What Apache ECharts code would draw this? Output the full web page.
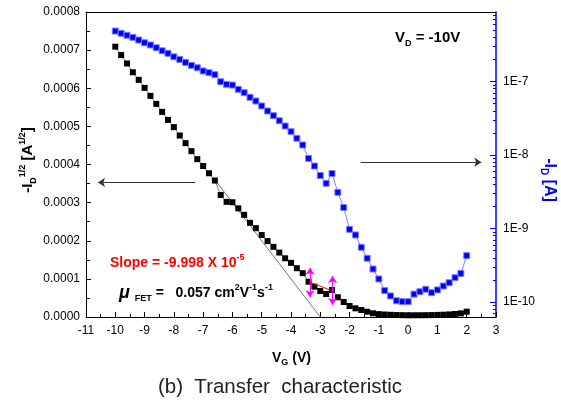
<!DOCTYPE html>
<html>
<head>
<meta charset="utf-8">
<title>Transfer characteristic</title>
<script src="https://cdn.jsdelivr.net/npm/echarts@6/dist/echarts.min.js"></script>
<style>
html, body { margin: 0; padding: 0; background: #fff; }
#main { width: 561px; height: 401px; }
</style>
</head>
<body>
<div id="main"></div>
<script>
// gate voltage (V)
var vg = [-10, -9.8, -9.6, -9.4, -9.2, -9, -8.8, -8.6, -8.4, -8.2,
    -8, -7.8, -7.6, -7.4, -7.2, -7, -6.8, -6.6, -6.4, -6.2,
    -6, -5.8, -5.6, -5.4, -5.2, -5, -4.8, -4.6, -4.4, -4.2,
    -4, -3.8, -3.6, -3.4, -3.2, -3, -2.8, -2.6, -2.4, -2.2,
    -2, -1.8, -1.6, -1.4, -1.2, -1, -0.8, -0.6, -0.4, -0.2,
    0, 0.2, 0.4, 0.6, 0.8, 1, 1.2, 1.4, 1.6, 1.8, 2];
// -Id^(1/2) in A^(1/2), left axis
var sqrtId = [0.000709, 0.000687, 0.000665, 0.000642, 0.000622, 0.000601, 0.000580, 0.000559, 0.000538, 0.000517,
    0.000498, 0.000476, 0.000456, 0.000435, 0.000414, 0.000396, 0.000377, 0.000358, 0.000320, 0.000302,
    0.000301, 0.000285, 0.000268, 0.000247, 0.000233, 0.000215, 0.000199, 0.000184, 0.000169, 0.000154,
    0.000142, 0.000128, 0.000115, 0.0000926, 0.0000795, 0.0000682, 0.0000603, 0.0000708, 0.0000517, 0.0000393,
    0.0000289, 0.0000228, 0.0000184, 0.0000139, 0.0000097, 0.0000075, 0.0000065, 0.0000058, 0.0000052, 0.0000048,
    0.0000045, 0.0000045, 0.0000046, 0.0000048, 0.000005, 0.0000055, 0.000006, 0.0000068, 0.0000078, 0.0000095, 0.000014];
// -Id in A, right axis (log)
var idAbs = [4.86e-7, 4.53e-7, 4.26e-7, 3.99e-7, 3.67e-7, 3.37e-7, 3.14e-7, 2.88e-7, 2.62e-7, 2.42e-7,
    2.17e-7, 2.00e-7, 1.82e-7, 1.66e-7, 1.54e-7, 1.39e-7, 1.32e-7, 1.24e-7, 9.93e-8, 9.16e-8,
    8.95e-8, 7.83e-8, 7.05e-8, 6.10e-8, 5.43e-8, 4.65e-8, 3.97e-8, 3.43e-8, 2.93e-8, 2.48e-8,
    2.08e-8, 1.69e-8, 1.37e-8, 9.0e-9, 7.08e-9, 5.26e-9, 4.12e-9, 5.60e-9, 3.11e-9, 1.93e-9,
    9.75e-10, 8.17e-10, 5.55e-10, 3.94e-10, 2.81e-10, 2.06e-10, 1.43e-10, 1.21e-10, 1.04e-10, 1.01e-10,
    1.01e-10, 1.28e-10, 1.38e-10, 1.49e-10, 1.34e-10, 1.46e-10, 1.65e-10, 1.83e-10, 2.14e-10, 2.45e-10, 4.27e-10];
// linear fit of the sqrt curve
var fitV = [-6.6, -3.0];
var fitY = [0.00036, 0];
// right axis decades shown as labels
var decades = [-10, -9, -8, -7];
var logMin = -10.204, logMax = -6.054;

var F = '"Liberation Sans", Arial, sans-serif';

var minorLog = [];
for (var d = -11; d <= -7; d++) {
    for (var k = 2; k <= 9; k++) minorLog.push(d + Math.log10(k));
}

var blackPts = vg.map(function (v, i) { return [v, sqrtId[i]]; });
var bluePts = vg.map(function (v, i) { return [v, Math.log10(idAbs[i])]; });
var fitPts = fitV.map(function (v, i) { return [v, fitY[i]]; });

var myChart = echarts.init(document.getElementById('main'));

var sub = {fontSize: 9, fontWeight: 'bold', fontFamily: F, lineHeight: 9, verticalAlign: 'bottom', fill: '#000'};
var sup = {fontSize: 9, fontWeight: 'bold', fontFamily: F, lineHeight: 9, verticalAlign: 'top', fill: '#000'};
var bold = {fontSize: 15, fontWeight: 'bold', fontFamily: F, lineHeight: 20, fill: '#000'};

var option = {
    animation: false,
    grid: {left: 86, right: 65, top: 12, bottom: 84, outerBoundsMode: 'none'},
    xAxis: [
        {
            type: 'value', min: -11, max: 3, interval: 1, position: 'bottom',
            axisLine: {onZero: false, lineStyle: {color: '#000', width: 1}},
            axisTick: {inside: true, length: 5, lineStyle: {color: '#000'}},
            minorTick: {show: true, splitNumber: 2, length: 3, lineStyle: {color: '#000'}},
            axisLabel: {color: '#000', fontSize: 12, fontFamily: F, margin: 8},
            splitLine: {show: false}
        },
        {
            type: 'value', min: -11, max: 3, position: 'top',
            axisLine: {onZero: false, lineStyle: {color: '#000', width: 1}},
            axisTick: {show: false}, axisLabel: {show: false}, splitLine: {show: false}
        }
    ],
    yAxis: [
        {
            type: 'value', min: 0, max: 0.0008, interval: 0.0001, position: 'left',
            axisLine: {show: true, onZero: false, lineStyle: {color: '#000', width: 1}},
            axisTick: {inside: true, length: 5, lineStyle: {color: '#000'}},
            minorTick: {show: true, splitNumber: 2, length: 4, lineStyle: {color: '#000'}},
            axisLabel: {color: '#000', fontSize: 12, fontFamily: F, margin: 6,
                formatter: function (v) { return v.toFixed(4); }},
            splitLine: {show: false}
        },
        {
            type: 'value', min: logMin, max: logMax, position: 'right',
            axisLine: {show: true, onZero: false, lineStyle: {color: '#0000ff', width: 1.5}},
            axisTick: {inside: true, length: 6, customValues: decades, lineStyle: {color: '#0000ff'}},
            axisLabel: {color: '#000', fontSize: 12, fontFamily: F, margin: 7, customValues: decades,
                formatter: function (v) { return '1E' + Math.round(v); }},
            splitLine: {show: false}
        },
        {
            type: 'value', min: logMin, max: logMax, position: 'right',
            axisLine: {show: false, onZero: false},
            axisTick: {inside: true, length: 3, customValues: minorLog, lineStyle: {color: '#0000ff'}},
            axisLabel: {show: false},
            splitLine: {show: false}
        }
    ],
    series: [
        {
            name: 'sqrt', type: 'line', xAxisIndex: 0, yAxisIndex: 0, data: blackPts,
            symbol: 'rect', symbolSize: 6,
            itemStyle: {color: '#000'},
            lineStyle: {color: '#666', width: 0.8}
        },
        {
            name: 'log', type: 'line', xAxisIndex: 0, yAxisIndex: 1, data: bluePts,
            symbol: 'rect', symbolSize: 6,
            itemStyle: {color: '#0000ff', borderColor: '#8080ff', borderWidth: 1},
            lineStyle: {color: '#8080ff', width: 1}
        },
        {
            name: 'fit', type: 'line', xAxisIndex: 0, yAxisIndex: 0, data: fitPts,
            symbol: 'none', lineStyle: {color: '#777', width: 1}, silent: true,
            markLine: {
                silent: true, animation: false, label: {show: false},
                symbol: ['none', 'arrow'], symbolSize: 7,
                data: [
                    [{coord: [-7.27, 0.000353], lineStyle: {color: '#333', width: 1, type: 'solid'}}, {coord: [-10.59, 0.000353]}],
                    [{coord: [-1.62, 0.000406], lineStyle: {color: '#333', width: 1, type: 'solid'}}, {coord: [2.5, 0.000406]}],
                    [{coord: [-3.35, 0.000052], symbol: 'arrow', lineStyle: {color: '#ff00ff', width: 1, type: 'solid'}}, {coord: [-3.35, 0.000129]}],
                    [{coord: [-2.58, 0.0000315], symbol: 'arrow', lineStyle: {color: '#ff00ff', width: 1, type: 'solid'}}, {coord: [-2.58, 0.0001075]}],
                    [{coord: [-3.4, 0.0000926], symbol: 'none', lineStyle: {color: '#ff0000', width: 1, type: 'solid'}}, {coord: [-2.6, 0.000069], symbol: 'none'}]
                ]
            }
        }
    ],
    graphic: [
        {
            type: 'text', x: 28, y: 160, rotation: Math.PI / 2,
            style: {
                text: '{b|-I}{sub|D}{sup|1/2}{b| [A}{sup|1/2}{b|]}',
                align: 'center', verticalAlign: 'middle',
                rich: {b: bold, sub: sub, sup: sup}
            }
        },
        {
            type: 'text', x: 549, y: 180, rotation: -Math.PI / 2,
            style: {
                text: '{b|-I}{sub|D}{b| [A]}',
                align: 'center', verticalAlign: 'middle',
                rich: {
                    b: {fontSize: 16, fontWeight: 'bold', fontFamily: F, lineHeight: 20, fill: '#0000ff'},
                    sub: {fontSize: 10, fontWeight: 'bold', fontFamily: F, lineHeight: 10, verticalAlign: 'bottom', fill: '#0000ff'}
                }
            }
        },
        {
            type: 'text', x: 395, y: 38,
            style: {
                text: '{b|V}{sub|D}{b| = -10V}',
                align: 'left', verticalAlign: 'middle',
                rich: {b: bold, sub: sub}
            }
        },
        {
            type: 'text', x: 110, y: 263,
            style: {
                text: '{r|Slope = -9.998 X 10}{rs|-5}',
                align: 'left', verticalAlign: 'middle',
                rich: {
                    r: {fontSize: 14, fontWeight: 'bold', fontFamily: F, lineHeight: 20, fill: '#ff0000'},
                    rs: {fontSize: 9, fontWeight: 'bold', fontFamily: F, lineHeight: 9, verticalAlign: 'top', fill: '#ff0000'}
                }
            }
        },
        {
            type: 'text', x: 119, y: 293,
            style: {
                text: '{mu|\u03bc}{sub|  FET}{b| =   0.057 cm}{sup|2}{b|V}{sup|-1}{b|s}{sup|-1}',
                align: 'left', verticalAlign: 'middle',
                rich: {
                    mu: {fontSize: 18, fontWeight: 'bold', fontStyle: 'italic', fontFamily: F, lineHeight: 20, fill: '#000'},
                    b: {fontSize: 14, fontWeight: 'bold', fontFamily: F, lineHeight: 20, fill: '#000'},
                    sub: sub, sup: sup
                }
            }
        },
        {
            type: 'text', x: 272, y: 358,
            style: {
                text: '{b|V}{sub|G}{b| (V)}',
                align: 'left', verticalAlign: 'middle',
                rich: {
                    b: {fontSize: 14, fontWeight: 'bold', fontFamily: F, lineHeight: 18, fill: '#000'},
                    sub: sub
                }
            }
        },
        {
            type: 'text', x: 280, y: 387,
            style: {
                text: '(b)  Transfer  characteristic',
                align: 'center', verticalAlign: 'middle',
                font: '20.5px ' + F, fill: '#222'
            }
        }
    ]
};

myChart.setOption(option);
</script>
</body>
</html>
